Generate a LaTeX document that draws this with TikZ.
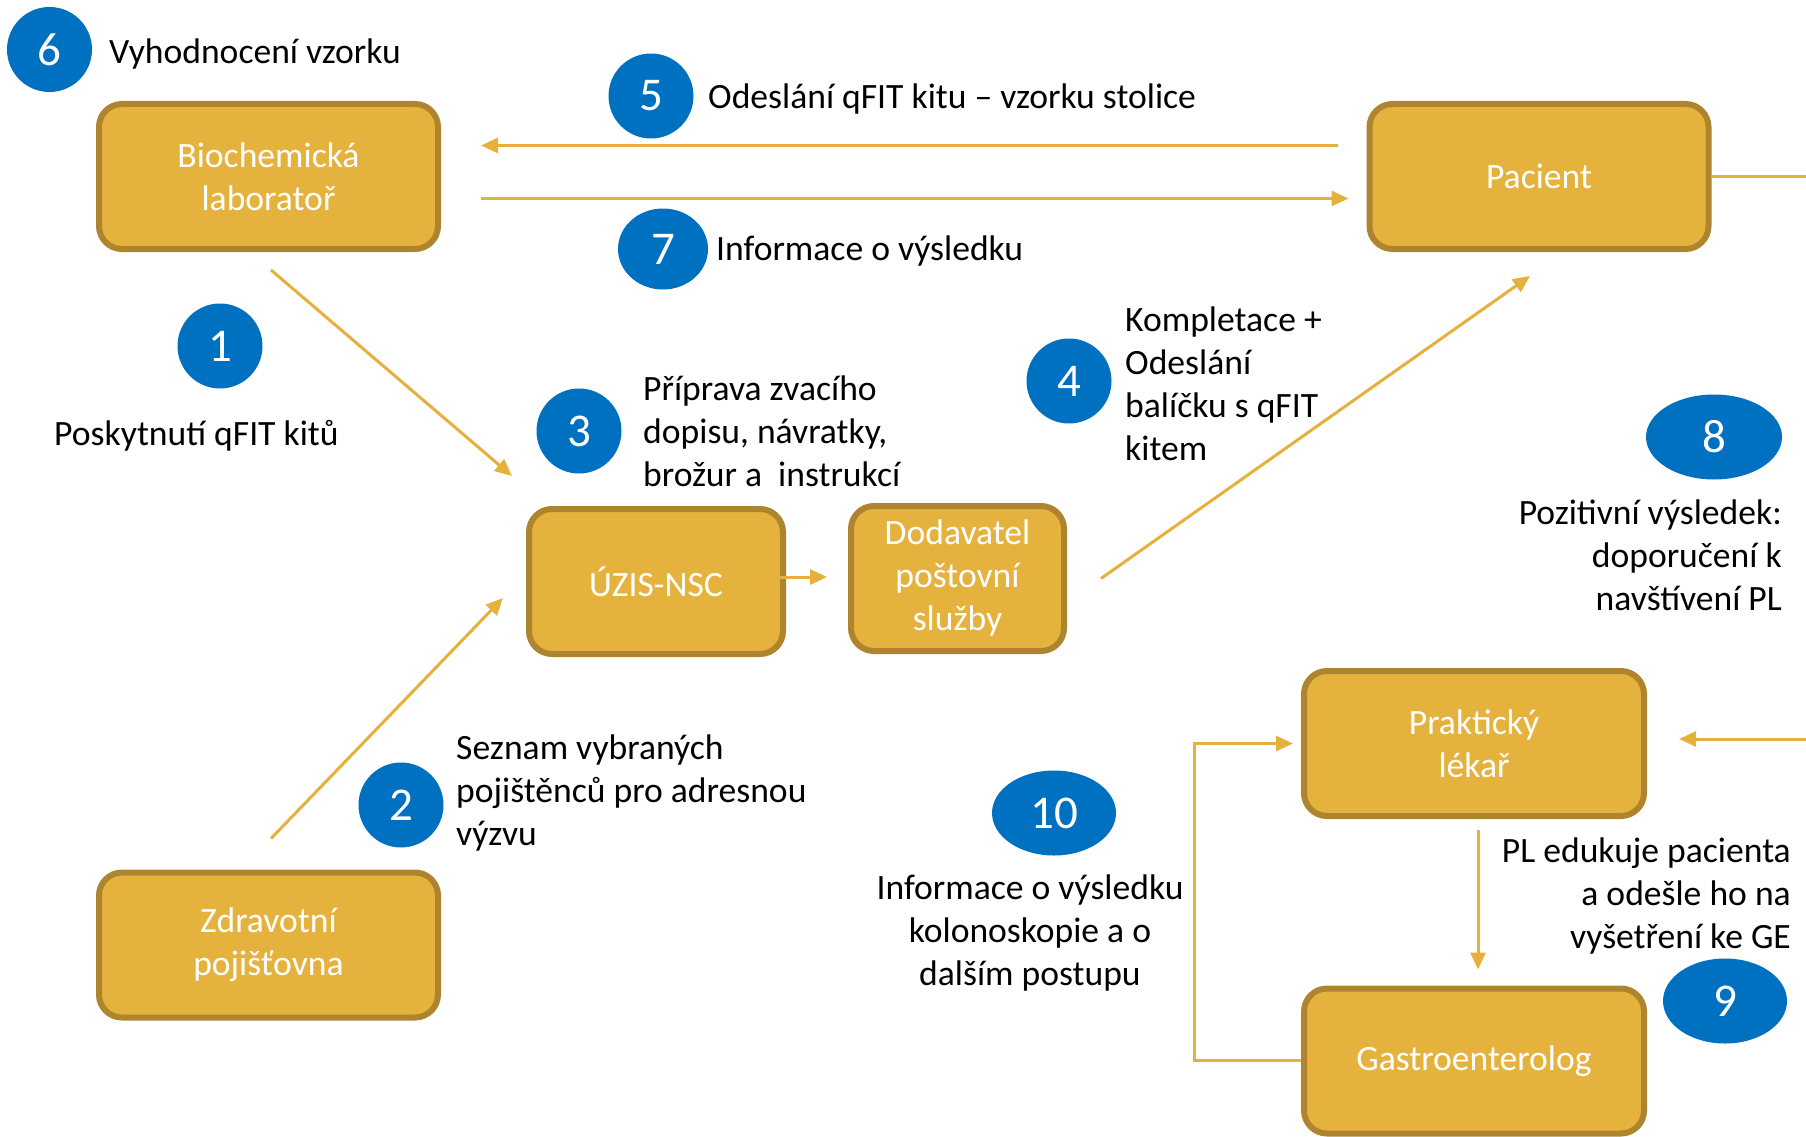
\documentclass[tikz,border=0pt]{standalone}
\usepackage{fontspec}
\setmainfont{Carlito}
\usetikzlibrary{
	arrows.meta,
	shapes,
	calc
}
\definecolor{boxfill}{RGB}{230,178,62}
\definecolor{boxline}{RGB}{174,132,46}
\definecolor{badgeblue}{RGB}{0,112,192}
\definecolor{flowcol}{RGB}{230,176,60}
\tikzset{
	unit/.style={rectangle, rounded corners=23pt, draw=boxline, line width=6pt, fill=boxfill,
		text=white, align=center, inner sep=0pt, minimum height=145pt,
		font=\fontsize{35.6}{43}\selectfont},
	badge/.style={ellipse, fill=badgeblue, text=white, inner sep=0pt,
		minimum width=85pt, minimum height=85pt, font=\fontsize{47}{56}\selectfont},
	note/.style={inner sep=0pt, font=\fontsize{35.6}{43}\selectfont},
	flow/.style={draw=flowcol, line width=3pt, -{Triangle[length=17pt,width=15pt]}},
	link/.style={draw=flowcol, line width=3pt}
}
\begin{document}
\begin{tikzpicture}[x=1pt, y=-1pt]
	\useasboundingbox (0,0) rectangle (1806,1137);

	\node[unit, minimum width=339pt] (bio) at (268.5,176.5) {Biochemická\\laboratoř};
	\node[unit, minimum width=339pt] (pac) at (1539,176.5) {Pacient};
	\node[unit, minimum width=254pt] (uzis) at (656,581.5) {ÚZIS-NSC};
	\node[unit, minimum width=213pt] (dod) at (957.5,578.5) {Dodavatel\\poštovní\\služby};
	\node[unit, minimum width=339pt] (zp) at (268.5,945) {Zdravotní\\pojišťovna};
	\node[unit, minimum width=340pt] (pl) at (1474,743.5) {Praktický\\lékař};
	\node[unit, minimum width=340pt] (ge) at (1474,1061) {Gastroenterolog};

	\coordinate (pacout) at (1806,176.5);
	\coordinate (plin) at (1806,739);

	\draw[flow, shorten <=29pt, shorten >=40pt] ([yshift=31pt]pac.west) -- ([yshift=31pt]bio.east);
	\draw[flow, shorten <=40pt, shorten >=18pt] ([yshift=-22pt]bio.east) -- ([yshift=-22pt]pac.west);
	\draw[link] (pac.east) -- (pacout);
	\draw[flow] ([xshift=2.5pt,yshift=-18pt]bio.south) -- ([xshift=-14pt,yshift=30pt]uzis.north west);
	\draw[flow] ([xshift=2.5pt,yshift=31pt]zp.north) -- ([xshift=-23pt,yshift=-16.5pt]uzis.west);
	\draw[flow, shorten <=-37pt, shorten >=21pt] ([yshift=4.5pt]uzis.east) -- ([yshift=4.5pt]uzis.east -| dod.west);
	\draw[flow] ([xshift=34pt]dod.east) -- ([xshift=-9pt,yshift=-24pt]pac.south);
	\draw[flow, shorten >=32pt] (plin) -- ([yshift=4.5pt]pl.east);
	\draw[flow, shorten <=11pt, shorten >=16pt] ([xshift=4pt]pl.south) -- ([xshift=4pt]ge.north);
	\draw[flow, shorten >=8pt] ([yshift=1pt]ge.west) -- ++(-107,0) |- (pl.west);

	\node[badge] (b6) at (49.5,49.5) {6};
	\node[badge] (b5) at (651,96) {5};
	\node[badge, minimum width=90pt, minimum height=81pt] (b7) at (663,249) {7};
	\node[badge] (b1) at (220,346) {1};
	\node[badge] (b3) at (579,431) {3};
	\node[badge] (b4) at (1069,381) {4};
	\node[badge, minimum width=136pt] (b8) at (1714,437) {8};
	\node[badge] (b2) at (401,805) {2};
	\node[badge, minimum width=124pt] (b10) at (1054,813) {10};
	\node[badge, minimum width=124pt] (b9) at (1725,1001) {9};

	\node[note, anchor=west] (t6) at (109,54.5) {Vyhodnocení vzorku};
	\node[note, anchor=west] (t5) at (708,99.5) {Odeslání qFIT kitu – vzorku stolice};
	\node[note, anchor=west] (t7) at (716,251.5) {Informace o výsledku};
	\node[note, anchor=west] (t1) at (54,435.5) {Poskytnutí qFIT kitů};
	\node[note, anchor=west, align=left] (t3) at (643,431) {Příprava zvacího\\dopisu, návratky,\\brožur a~~instrukcí};
	\node[note, anchor=west, align=left] (t4) at (1125,384) {Kompletace +\\Odeslání\\balíčku s qFIT\\kitem};
	\node[note, anchor=east, align=right] (t8) at (1782,555) {Pozitivní výsledek:\\doporučení k\\navštívení PL};
	\node[note, anchor=west, align=left] (t2) at (456,793) {Seznam vybraných\\pojištěnců pro adresnou\\výzvu};
	\node[note, align=center] (t10) at (1030,932.5) {Informace o výsledku\\kolonoskopie a o\\dalším postupu};
	\node[note, anchor=east, align=right] (t9) at (1791,895.5) {PL edukuje pacienta\\a odešle ho na\\vyšetření ke GE};
\end{tikzpicture}
\end{document}
